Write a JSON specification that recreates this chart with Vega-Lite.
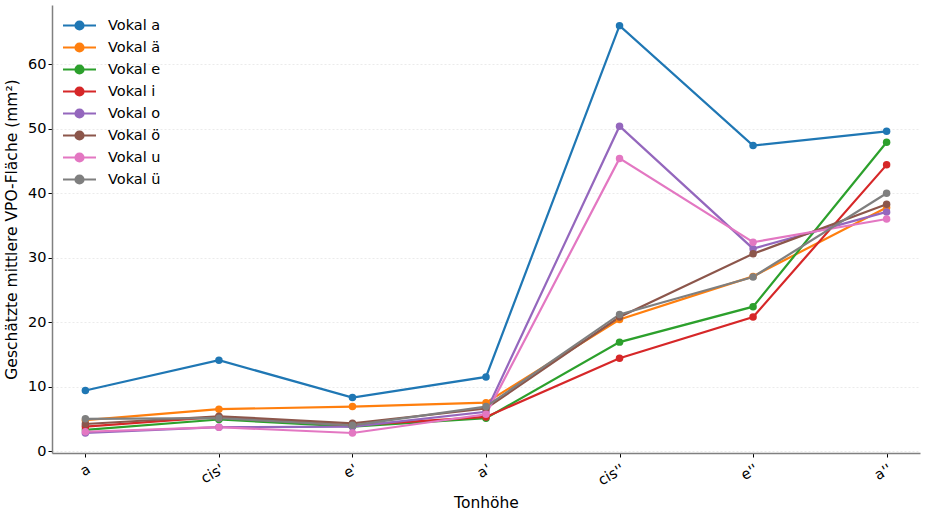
{
  "$schema": "https://vega.github.io/schema/vega-lite/v6.json",
  "width": 868,
  "height": 448,
  "autosize": "none",
  "padding": {"left": 52, "top": 5, "right": 6, "bottom": 59},
  "background": "white",
  "config": {
    "font": "DejaVu Sans",
    "view": {"stroke": null},
    "axis": {"labelFont": "DejaVu Sans", "titleFont": "DejaVu Sans", "labelFontSize": 14.5, "titleFontSize": 15.5, "titleFontWeight": "normal", "labelColor": "#000", "titleColor": "#000", "domainColor": "#808080", "domainWidth": 1.5, "tickColor": "#000", "tickSize": 4}
  },
  "data": {
    "values": [
      {"ton": "a", "vokal": "Vokal a", "wert": 9.4},
      {"ton": "cis'", "vokal": "Vokal a", "wert": 14.1},
      {"ton": "e'", "vokal": "Vokal a", "wert": 8.3},
      {"ton": "a'", "vokal": "Vokal a", "wert": 11.5},
      {"ton": "cis''", "vokal": "Vokal a", "wert": 66.0},
      {"ton": "e''", "vokal": "Vokal a", "wert": 47.4},
      {"ton": "a''", "vokal": "Vokal a", "wert": 49.6},
      {"ton": "a", "vokal": "Vokal ä", "wert": 4.8},
      {"ton": "cis'", "vokal": "Vokal ä", "wert": 6.5},
      {"ton": "e'", "vokal": "Vokal ä", "wert": 6.9},
      {"ton": "a'", "vokal": "Vokal ä", "wert": 7.5},
      {"ton": "cis''", "vokal": "Vokal ä", "wert": 20.4},
      {"ton": "e''", "vokal": "Vokal ä", "wert": 27.1},
      {"ton": "a''", "vokal": "Vokal ä", "wert": 37.8},
      {"ton": "a", "vokal": "Vokal e", "wert": 3.3},
      {"ton": "cis'", "vokal": "Vokal e", "wert": 4.9},
      {"ton": "e'", "vokal": "Vokal e", "wert": 3.8},
      {"ton": "a'", "vokal": "Vokal e", "wert": 5.1},
      {"ton": "cis''", "vokal": "Vokal e", "wert": 16.9},
      {"ton": "e''", "vokal": "Vokal e", "wert": 22.4},
      {"ton": "a''", "vokal": "Vokal e", "wert": 47.9},
      {"ton": "a", "vokal": "Vokal i", "wert": 3.8},
      {"ton": "cis'", "vokal": "Vokal i", "wert": 5.3},
      {"ton": "e'", "vokal": "Vokal i", "wert": 4.0},
      {"ton": "a'", "vokal": "Vokal i", "wert": 5.3},
      {"ton": "cis''", "vokal": "Vokal i", "wert": 14.4},
      {"ton": "e''", "vokal": "Vokal i", "wert": 20.8},
      {"ton": "a''", "vokal": "Vokal i", "wert": 44.4},
      {"ton": "a", "vokal": "Vokal o", "wert": 2.8},
      {"ton": "cis'", "vokal": "Vokal o", "wert": 3.7},
      {"ton": "e'", "vokal": "Vokal o", "wert": 3.8},
      {"ton": "a'", "vokal": "Vokal o", "wert": 6.1},
      {"ton": "cis''", "vokal": "Vokal o", "wert": 50.4},
      {"ton": "e''", "vokal": "Vokal o", "wert": 31.4},
      {"ton": "a''", "vokal": "Vokal o", "wert": 37.1},
      {"ton": "a", "vokal": "Vokal ö", "wert": 4.2},
      {"ton": "cis'", "vokal": "Vokal ö", "wert": 5.4},
      {"ton": "e'", "vokal": "Vokal ö", "wert": 4.3},
      {"ton": "a'", "vokal": "Vokal ö", "wert": 6.6},
      {"ton": "cis''", "vokal": "Vokal ö", "wert": 20.8},
      {"ton": "e''", "vokal": "Vokal ö", "wert": 30.6},
      {"ton": "a''", "vokal": "Vokal ö", "wert": 38.3},
      {"ton": "a", "vokal": "Vokal u", "wert": 3.0},
      {"ton": "cis'", "vokal": "Vokal u", "wert": 3.7},
      {"ton": "e'", "vokal": "Vokal u", "wert": 2.8},
      {"ton": "a'", "vokal": "Vokal u", "wert": 5.7},
      {"ton": "cis''", "vokal": "Vokal u", "wert": 45.4},
      {"ton": "e''", "vokal": "Vokal u", "wert": 32.4},
      {"ton": "a''", "vokal": "Vokal u", "wert": 36.0},
      {"ton": "a", "vokal": "Vokal ü", "wert": 5.0},
      {"ton": "cis'", "vokal": "Vokal ü", "wert": 5.1},
      {"ton": "e'", "vokal": "Vokal ü", "wert": 4.0},
      {"ton": "a'", "vokal": "Vokal ü", "wert": 6.9},
      {"ton": "cis''", "vokal": "Vokal ü", "wert": 21.2},
      {"ton": "e''", "vokal": "Vokal ü", "wert": 27.0},
      {"ton": "a''", "vokal": "Vokal ü", "wert": 40.0}
    ]
  },
  "mark": {"type": "line", "strokeWidth": 2.2, "point": {"filled": true, "size": 56, "opacity": 1}},
  "encoding": {
    "x": {
      "field": "ton", "type": "ordinal",
      "sort": ["a", "cis'", "e'", "a'", "cis''", "e''", "a''"],
      "scale": {"type": "point", "padding": 0.25},
      "axis": {"title": "Tonhöhe", "labelAngle": -30, "labelAlign": "right", "labelBaseline": "top", "labelPadding": 5, "grid": false, "titlePadding": 8}
    },
    "y": {
      "field": "wert", "type": "quantitative",
      "scale": {"domain": [-0.3, 69.2], "nice": false, "zero": false},
      "axis": {"title": "Geschätzte mittlere VPO-Fläche (mm²)", "values": [0, 10, 20, 30, 40, 50, 60], "grid": true, "gridColor": "#e6e6e6", "gridDash": [2, 2], "gridWidth": 0.8, "titlePadding": 8}
    },
    "color": {
      "field": "vokal", "type": "nominal",
      "sort": ["Vokal a", "Vokal ä", "Vokal e", "Vokal i", "Vokal o", "Vokal ö", "Vokal u", "Vokal ü"],
      "scale": {"domain": ["Vokal a", "Vokal ä", "Vokal e", "Vokal i", "Vokal o", "Vokal ö", "Vokal u", "Vokal ü"], "range": ["#1f77b4", "#ff7f0e", "#2ca02c", "#d62728", "#9467bd", "#8c564b", "#e377c2", "#7f7f7f"]},
      "legend": {"title": null, "orient": "none", "legendX": 16, "legendY": 9, "labelFontSize": 14.5, "labelFont": "DejaVu Sans", "labelColor": "#000", "symbolType": "M-1.65,0L1.65,0M-0.4,0A0.4,0.4 0 1 1 0.4,0A0.4,0.4 0 1 1 -0.4,0Z", "symbolSize": 400, "symbolStrokeWidth": 2.2, "rowPadding": 2, "labelOffset": 17}
    }
  }
}
